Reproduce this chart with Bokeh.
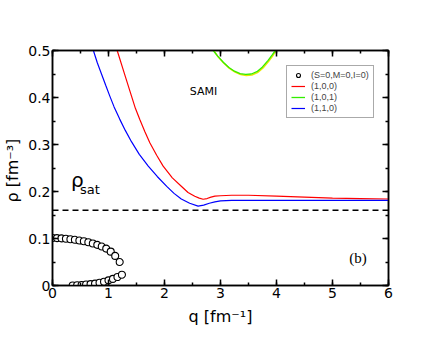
from bokeh.plotting import figure
from bokeh.models import (Range1d, LinearAxis, SingleIntervalTicker, Span, Label,
                          Legend, LegendItem, CustomJSTickFormatter)
from bokeh.embed import file_html
from bokeh.resources import INLINE

# (S=0,M=0,I=0) upper branch
q_s0_up = [0.0, 0.08, 0.16, 0.24, 0.32, 0.40, 0.48, 0.56, 0.64, 0.72, 0.80, 0.88, 0.96, 1.04, 1.12, 1.20]
r_s0_up = [0.101, 0.1008, 0.1003, 0.0995, 0.0985, 0.0972, 0.0957, 0.094, 0.092, 0.0895, 0.0865,
           0.083, 0.0785, 0.072, 0.063, 0.050]
# (S=0,M=0,I=0) lower branch
q_s0_lo = [0.36, 0.44, 0.52, 0.60, 0.68, 0.76, 0.84, 0.92, 1.00, 1.08, 1.16, 1.24]
r_s0_lo = [0.0, 0.0005, 0.001, 0.002, 0.003, 0.004, 0.006, 0.008, 0.011, 0.014, 0.018, 0.023]

# (1,0,0)
q_100 = [1.155, 1.28, 1.411, 1.48, 1.559, 1.65, 1.738, 1.86, 1.976, 2.14, 2.30, 2.42,
         2.54, 2.62, 2.69, 2.76, 2.83, 2.90, 3.0, 3.2, 3.5, 4.0, 4.5, 5.0, 5.5, 6.0]
r_100 = [0.5, 0.4525, 0.4028, 0.377, 0.353, 0.327, 0.3036, 0.277, 0.2539, 0.229, 0.2113,
         0.198, 0.190, 0.186, 0.1835, 0.185, 0.188, 0.190, 0.191, 0.192, 0.192, 0.190, 0.188,
         0.186, 0.185, 0.184]

# (1,0,1)
q_101 = [2.87, 2.95, 3.05, 3.15, 3.25, 3.35, 3.45, 3.55, 3.65, 3.75, 3.85, 3.92, 3.98]
r_101 = [0.5, 0.488, 0.475, 0.464, 0.456, 0.451, 0.449, 0.450, 0.455, 0.465, 0.479, 0.490, 0.5]
# yellow companion curve (just beneath green)
q_yel = [2.88, 2.96, 3.06, 3.16, 3.26, 3.36, 3.46, 3.56, 3.66, 3.76, 3.86, 3.93, 3.99]
r_yel = [0.5, 0.486, 0.473, 0.462, 0.454, 0.449, 0.447, 0.448, 0.453, 0.463, 0.477, 0.488, 0.5]

# (1,1,0)
q_110 = [0.73, 0.80, 0.875, 0.95, 1.02, 1.10, 1.20, 1.30, 1.41, 1.55, 1.71, 1.87, 2.04, 2.17,
         2.30, 2.45, 2.60, 2.70, 2.80, 2.90, 3.0, 3.2, 3.5, 4.0, 4.5, 5.0, 5.5, 6.0]
r_110 = [0.5, 0.474, 0.450, 0.426, 0.404, 0.380, 0.354, 0.330, 0.306, 0.279, 0.254, 0.232,
         0.211, 0.196, 0.184, 0.175, 0.169, 0.171, 0.175, 0.178, 0.180, 0.181, 0.181, 0.181,
         0.181, 0.181, 0.181, 0.181]

rho_sat = 0.16

FONT = "DejaVu Sans"

p = figure(frame_width=336, frame_height=235, output_backend="svg", toolbar_location=None,
           x_range=Range1d(0, 6), y_range=Range1d(0, 0.5),
           min_border_left=43, min_border_top=50, min_border_right=10, min_border_bottom=30)
p.grid.visible = False
p.outline_line_color = "black"
p.outline_line_width = 1.5
p.background_fill_color = "white"
p.border_fill_color = "white"

xt = SingleIntervalTicker(interval=1, num_minor_ticks=2)
yt = SingleIntervalTicker(interval=0.1, num_minor_ticks=2)

for ax in [p.xaxis[0], p.yaxis[0]]:
    ax.major_tick_in = 6
    ax.major_tick_out = 0
    ax.minor_tick_in = 3
    ax.minor_tick_out = 0
    ax.axis_line_width = 1.5
    ax.major_tick_line_width = 1.5
    ax.minor_tick_line_width = 1.5
    ax.major_label_text_font = FONT
    ax.major_label_text_font_size = "14px"
    ax.major_label_text_color = "black"
    ax.axis_label_text_font = FONT
    ax.axis_label_text_font_size = "16px"
    ax.axis_label_text_font_style = "normal"
    ax.axis_label_text_color = "black"

p.xaxis[0].ticker = xt
p.yaxis[0].ticker = yt
p.xaxis[0].major_label_standoff = 2
p.yaxis[0].major_label_standoff = 2
p.xaxis[0].axis_label = "q [fm⁻¹]"
p.yaxis[0].axis_label = "ρ  [fm⁻³]"
p.xaxis[0].axis_label_standoff = 6
p.yaxis[0].axis_label_standoff = 3
p.yaxis[0].major_label_overrides = {0: "0"}

blank = CustomJSTickFormatter(code="return ''")
top = LinearAxis(ticker=SingleIntervalTicker(interval=1, num_minor_ticks=2), formatter=blank,
                 major_tick_in=6, major_tick_out=0,
                 minor_tick_in=3, minor_tick_out=0, major_tick_line_width=1.5,
                 minor_tick_line_width=1.5, axis_line_width=1.5, major_label_standoff=0)
right = LinearAxis(ticker=SingleIntervalTicker(interval=0.1, num_minor_ticks=2), formatter=blank,
                   major_tick_in=6, major_tick_out=0,
                   minor_tick_in=3, minor_tick_out=0, major_tick_line_width=1.5,
                   minor_tick_line_width=1.5, axis_line_width=1.5, major_label_standoff=0)
p.add_layout(top, "above")
p.add_layout(right, "right")

p.add_layout(Span(location=rho_sat, dimension="width", line_color="black",
                  line_dash="6 4", line_width=1.5))

r_yel_line = p.line(q_yel, r_yel, line_color="#e8e800", line_width=1.5)
r_green = p.line(q_101, r_101, line_color="#33ee00", line_width=1.3)
r_red = p.line(q_100, r_100, line_color="#ff0000", line_width=1.2)
r_blue = p.line(q_110, r_110, line_color="#0000ff", line_width=1.2)
r_c1 = p.scatter(q_s0_up, r_s0_up, marker="circle", size=7, fill_color="white",
                 line_color="black", line_width=1.1)
r_c2 = p.scatter(q_s0_lo, r_s0_lo, marker="circle", size=7, fill_color="white",
                 line_color="black", line_width=1.1)

p.add_layout(Label(x=0.33, y=0.198, text="ρ", text_font=FONT, text_font_size="20px",
                   text_color="black"))
p.add_layout(Label(x=0.49, y=0.188, text="sat", text_font=FONT, text_font_size="13px",
                   text_color="black"))
p.add_layout(Label(x=2.45, y=0.398, text="SAMI", text_font=FONT, text_font_size="11px",
                   text_color="black"))
p.add_layout(Label(x=5.3, y=0.042, text="(b)", text_font="Liberation Serif",
                   text_font_size="15px", text_color="black"))

legend = Legend(items=[
    LegendItem(label="(S=0,M=0,I=0)", renderers=[r_c1]),
    LegendItem(label="(1,0,0)", renderers=[r_red]),
    LegendItem(label="(1,0,1)", renderers=[r_green]),
    LegendItem(label="(1,1,0)", renderers=[r_blue]),
], location=(234, 167))
legend.label_text_font = "Liberation Sans"
legend.label_text_font_size = "9px"
legend.label_height = 9
legend.glyph_height = 10
legend.glyph_width = 14
legend.spacing = 1
legend.padding = 4
legend.margin = 0
legend.label_standoff = 6
legend.border_line_color = "#555555"
legend.border_line_width = 1
legend.background_fill_alpha = 1
p.add_layout(legend)

open("out.html", "w").write(file_html(p, INLINE))
